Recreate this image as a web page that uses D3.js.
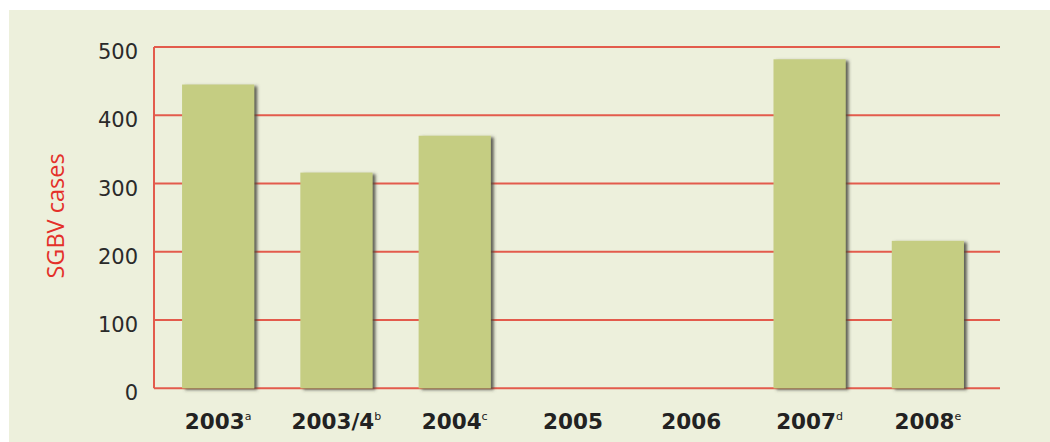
<!DOCTYPE html>
<html>
<head>
<meta charset="utf-8">
<script src="https://cdn.jsdelivr.net/npm/d3@7"></script>
<style>
  html, body { margin: 0; padding: 0; background: #ffffff; }
  svg { display: block; }
</style>
</head>
<body>
<script>
const categories = ["2003", "2003/4", "2004", "2005", "2006", "2007", "2008"];
const footnotes = ["a", "b", "c", "", "", "d", "e"];
const cases = [445, 316, 370, null, null, 482, 216];
const yTicks = [0, 100, 200, 300, 400, 500];
const yTitle = "SGBV cases";

const W = 1050, H = 442;
const svg = d3.select("body").append("svg").attr("width", W).attr("height", H);

const defs = svg.append("defs");
const f = defs.append("filter").attr("id", "shadow")
  .attr("x", "-20%").attr("y", "-10%").attr("width", "150%").attr("height", "130%");
f.append("feDropShadow").attr("dx", 3).attr("dy", 1.5).attr("stdDeviation", 1.4)
  .attr("flood-color", "#4a4a40").attr("flood-opacity", 0.85);

// panel background
svg.append("rect").attr("x", 9).attr("y", 10).attr("width", W - 9).attr("height", H - 10)
  .attr("fill", "#edf0dc");

const plotLeft = 154, plotRight = 1000, plotTop = 47, plotBottom = 388.3;

const x = d3.scaleBand().domain(categories).range([159, 987])
  .paddingInner(0.39).paddingOuter(0.195);
const y = d3.scaleLinear().domain([0, 500]).range([plotBottom, plotTop]);

const gridColor = "#e35b4c";

// gridlines
svg.append("g").selectAll("line").data(yTicks).join("line")
  .attr("x1", plotLeft).attr("x2", plotRight)
  .attr("y1", d => y(d)).attr("y2", d => y(d))
  .attr("stroke", gridColor).attr("stroke-width", 2);

// vertical axis line
svg.append("line").attr("x1", plotLeft).attr("x2", plotLeft).attr("y1", y(500)).attr("y2", y(0))
  .attr("stroke", gridColor).attr("stroke-width", 2);

// bars
const data = categories.map((c, i) => ({c, v: cases[i], n: footnotes[i]}));
svg.append("g").selectAll("rect").data(data.filter(d => d.v != null)).join("rect")
  .attr("x", d => x(d.c)).attr("width", x.bandwidth())
  .attr("y", d => y(d.v)).attr("height", d => y(0) - y(d.v))
  .attr("fill", "#c5cd82").attr("filter", "url(#shadow)");

// y tick labels
const yAxis = d3.axisLeft(y).tickValues(yTicks).tickSize(0).tickPadding(0);
const gy = svg.append("g").attr("transform", `translate(138,0)`).call(yAxis);
gy.select(".domain").remove();
gy.selectAll("text").attr("font-family", "DejaVu Sans").attr("font-size", 21)
  .attr("fill", "#2a2a2a").attr("dy", "0.55em");

// x labels
const xl = svg.append("g").selectAll("text").data(data).join("text")
  .attr("x", d => x(d.c) + x.bandwidth() / 2)
  .attr("y", 429)
  .attr("text-anchor", "middle")
  .attr("font-family", "DejaVu Sans").attr("font-weight", "bold").attr("font-size", 21.5)
  .attr("fill", "#222");
xl.append("tspan").text(d => d.c);
xl.append("tspan").text(d => d.n).attr("font-size", 11).attr("font-weight", "normal")
  .attr("dy", -9);

// y title
svg.append("text").attr("transform", `translate(64,216) rotate(-90)`)
  .attr("text-anchor", "middle")
  .attr("font-family", "Open Sans").attr("font-size", 23.5)
  .attr("fill", "#e4302a").text(yTitle);
</script>
</body>
</html>
